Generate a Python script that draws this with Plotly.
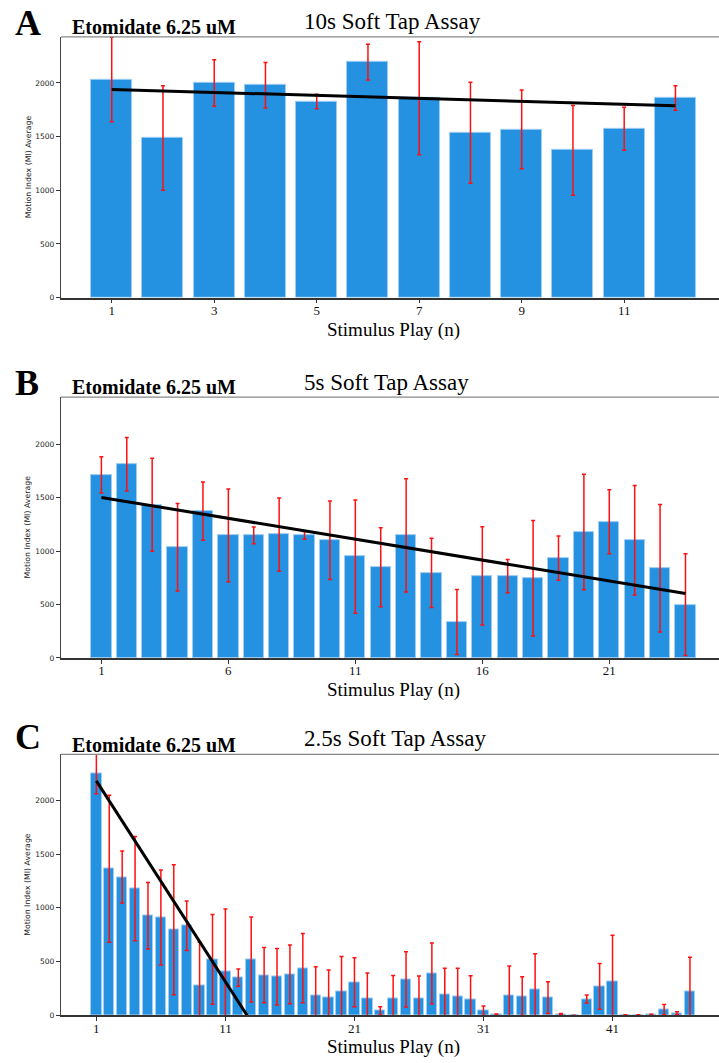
import plotly.graph_objects as go

# ---------------- data ----------------
a_vals = [2031, 1486, 1999, 1978, 1827, 2194, 1857, 1536, 1567, 1372, 1573, 1860]
a_err = [393, 487, 217, 211, 67, 166, 527, 470, 366, 418, 201, 114]
a_trend = [1939, 1786]          # trend line value at first and last play
a_ticks = [1, 3, 5, 7, 9, 11]

b_vals = [1713, 1813, 1433, 1035, 1374, 1147, 1147, 1154, 1147, 1101, 948, 849,
          1147, 796, 336, 768, 765, 746, 933, 1178, 1275, 1101, 840, 498]
b_err = [170, 250, 435, 410, 272, 435, 78, 343, 36, 367, 531, 370,
         530, 325, 305, 460, 155, 540, 207, 540, 300, 513, 597, 476]
b_trend = [1502, 603]
b_ticks = [1, 6, 11, 16, 21]

c_vals = [2247, 1364, 1287, 1179, 926, 910, 796, 833, 281, 519, 407, 349, 519, 373,
          358, 380, 438, 182, 170, 222, 306, 160, 40, 160, 333, 160, 389, 194, 179,
          148, 43, 6, 185, 179, 244, 164, 9, 0, 151, 269, 318, 2, 2, 6, 52, 19, 219]
c_err = [185, 685, 243, 485, 310, 443, 605, 230, 398, 418, 581, 80, 395, 258,
         263, 273, 323, 269, 250, 324, 228, 232, 38, 210, 257, 204, 283, 244, 259,
         219, 43, 5, 272, 179, 327, 148, 6, 0, 37, 213, 426, 2, 2, 3, 47, 12, 321]
c_trend = [2182, -6420]
c_ticks = [1, 11, 21, 31, 41]

titles = ["10s Soft Tap Assay", "5s Soft Tap Assay", "2.5s Soft Tap Assay"]
letters = ["A", "B", "C"]
drug_label = "Etomidate 6.25 uM"
x_title = "Stimulus Play (n)"
y_title = "Motion Index (MI) Average"
y_ticks = [0, 500, 1000, 1500, 2000]

# ---------------- layout geometry (pixels) ----------------
W, H = 719, 1063
SERIF = "Liberation Serif, Times New Roman, serif"
SANS = "DejaVu Sans, sans-serif"
BAR = "#2591E1"

panels = [
    dict(vals=a_vals, err=a_err, trend=a_trend, ticks=a_ticks,
         top=37, bottom=299, xr=[0.01, 12.85], yr=[0, 2429],
         letter_y=23, drug_y=26.7, title_y=21.3, xt_y=332),
    dict(vals=b_vals, err=b_err, trend=b_trend, ticks=b_ticks,
         top=399, bottom=661, xr=[-0.59, 25.32], yr=[0, 2441],
         letter_y=385, drug_y=389, title_y=384.5, xt_y=693),
    dict(vals=c_vals, err=c_err, trend=c_trend, ticks=c_ticks,
         top=758, bottom=1020, xr=[-1.74, 49.25], yr=[0, 2428],
         letter_y=740, drug_y=749, title_y=742, xt_y=1052),
]


def py(p):
    return 1 - p / H


def px(p):
    return p / W


fig = go.Figure()
annotations = []
shapes = []
left = 61

for i, p in enumerate(panels):
    n = i + 1
    xa = "x" if n == 1 else f"x{n}"
    ya = "y" if n == 1 else f"y{n}"
    xs = list(range(1, len(p["vals"]) + 1))
    fig.add_trace(go.Bar(
        x=xs, y=p["vals"], width=0.8, xaxis=xa, yaxis=ya,
        marker=dict(color=BAR, line=dict(color="#9fcdf3", width=1)),
        error_y=dict(type="data", array=p["err"], visible=True,
                     color="#ff1010", thickness=1.5, width=2),
        showlegend=False,
    ))
    fig.add_trace(go.Scatter(
        x=[xs[0], xs[-1]], y=p["trend"], mode="lines", xaxis=xa, yaxis=ya,
        line=dict(color="black", width=3), showlegend=False,
    ))
    dom_y = [py(p["bottom"]), py(p["top"])]
    fig.update_layout(**{
        ("xaxis" if n == 1 else f"xaxis{n}"): dict(
            domain=[px(left), 1], range=p["xr"], anchor=ya,
            tickmode="array", tickvals=p["ticks"], ticktext=[str(t) for t in p["ticks"]],
            ticks="outside", ticklen=4, tickwidth=1, tickcolor="#333",
            ticklabelstandoff=-4,
            showline=True, linecolor="#333", linewidth=1.5,
            showgrid=False, zeroline=False,
            tickfont=dict(family=SERIF, size=13, color="#111"),
        ),
        ("yaxis" if n == 1 else f"yaxis{n}"): dict(
            domain=dom_y, range=p["yr"], anchor=xa,
            tickmode="array", tickvals=y_ticks,
            ticks="outside", ticklen=4, tickwidth=1, tickcolor="#333",
            showline=True, linecolor="#444", linewidth=1.2,
            showgrid=False, zeroline=False,
            tickfont=dict(family=SANS, size=7.5, color="#222"),
        ),
    })
    # top border
    shapes.append(dict(type="line", xref="paper", yref="paper",
                       x0=px(left), x1=1, y0=py(p["top"]), y1=py(p["top"]),
                       line=dict(color="#888", width=1.3)))
    annotations += [
        dict(text=f"<b>{letters[i]}</b>", x=px(13), y=py(p["letter_y"]),
             xref="paper", yref="paper", xanchor="left", yanchor="middle",
             showarrow=False, font=dict(family=SERIF, size=36, color="black")),
        dict(text=f"<b>{drug_label}</b>", x=px(70), y=py(p["drug_y"]),
             xref="paper", yref="paper", xanchor="left", yanchor="middle",
             showarrow=False, font=dict(family=SERIF, size=20, color="black")),
        dict(text=titles[i], x=px(302), y=py(p["title_y"]),
             xref="paper", yref="paper", xanchor="left", yanchor="middle",
             showarrow=False, font=dict(family=SERIF, size=23, color="black")),
        dict(text=x_title, x=px(393), y=py(p["xt_y"]),
             xref="paper", yref="paper", xanchor="center", yanchor="middle",
             showarrow=False, font=dict(family=SERIF, size=19, color="black")),
        dict(text=y_title, x=px(28), y=py((p["top"] + p["bottom"]) / 2),
             xref="paper", yref="paper", xanchor="center", yanchor="middle",
             textangle=-90, showarrow=False,
             font=dict(family=SANS, size=7.8, color="#222")),
    ]

fig.update_layout(
    width=W, height=H, margin=dict(l=0, r=0, t=0, b=0),
    paper_bgcolor="white", plot_bgcolor="white",
    bargap=0, annotations=annotations, shapes=shapes,
)

fig.write_html("out.html")
